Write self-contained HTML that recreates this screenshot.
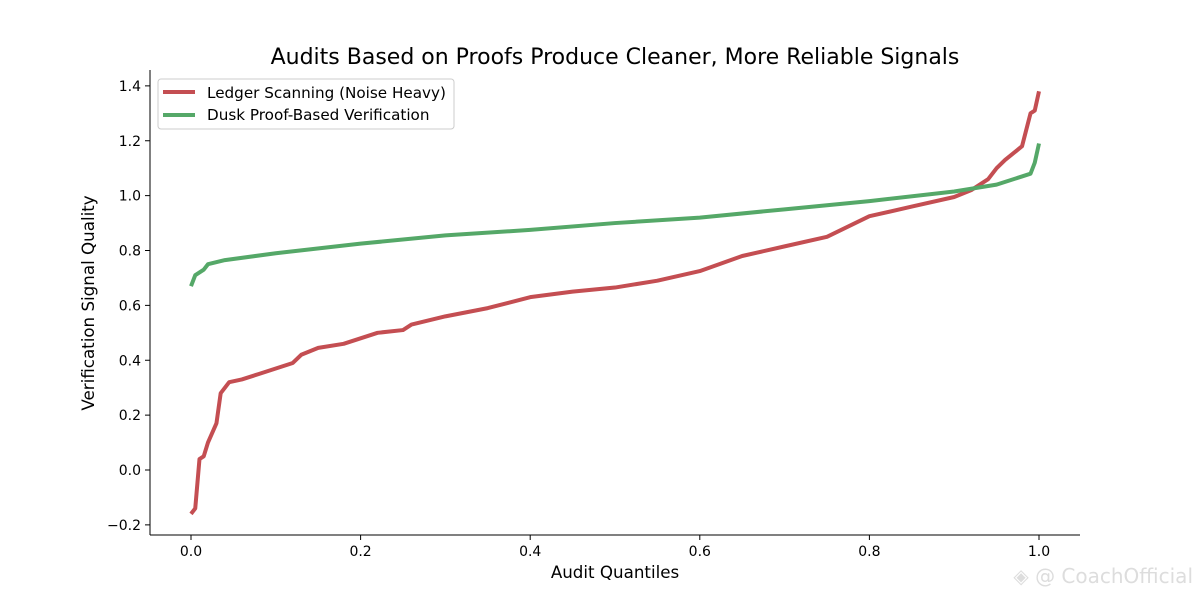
<!DOCTYPE html>
<html><head><meta charset="utf-8"><style>
body{margin:0;background:#fff;width:1200px;height:600px;overflow:hidden;font-family:"DejaVu Sans","Liberation Sans",sans-serif}
</style></head><body>
<svg id="chart" width="1200" height="600" xmlns="http://www.w3.org/2000/svg"></svg>
<script>
const redX=[0,0.005,0.01,0.015,0.02,0.03,0.035,0.04,0.045,0.06,0.08,0.1,0.12,0.13,0.15,0.18,0.2,0.22,0.25,0.26,0.3,0.35,0.4,0.45,0.5,0.55,0.6,0.65,0.7,0.75,0.8,0.85,0.9,0.92,0.94,0.95,0.96,0.98,0.985,0.99,0.995,1.0];
const redY=[-0.16,-0.14,0.04,0.05,0.1,0.17,0.28,0.30,0.32,0.33,0.35,0.37,0.39,0.42,0.445,0.46,0.48,0.50,0.51,0.53,0.56,0.59,0.63,0.65,0.665,0.69,0.725,0.78,0.815,0.85,0.925,0.96,0.995,1.02,1.06,1.10,1.13,1.18,1.24,1.30,1.31,1.38];
const greenX=[0,0.005,0.015,0.02,0.04,0.1,0.2,0.3,0.4,0.5,0.6,0.7,0.8,0.9,0.95,0.98,0.99,0.995,1.0];
const greenY=[0.67,0.71,0.73,0.75,0.765,0.79,0.825,0.855,0.875,0.9,0.92,0.95,0.98,1.015,1.04,1.07,1.08,1.12,1.19];
const xTicks=[0,0.2,0.4,0.6,0.8,1.0];
const yTicks=[-0.2,0,0.2,0.4,0.6,0.8,1.0,1.2,1.4];
const sx=v=>191+v*848, sy=v=>470-v*274.375;
const svg=document.getElementById('chart');
const NS='http://www.w3.org/2000/svg';
function mk(t,a,txt){const e=document.createElementNS(NS,t);for(const k in a)e.setAttribute(k,a[k]);if(txt!==undefined)e.textContent=txt;svg.appendChild(e);return e;}
let e;
e=mk('text',{x:615,y:64,'text-anchor':'middle','font-size':22},'Audits Based on Proofs Produce Cleaner, More Reliable Signals');


e=mk('line',{x1:150,y1:535,x2:1080,y2:535,stroke:'#000','stroke-width':1});


e=mk('line',{x1:150,y1:70,x2:150,y2:535,stroke:'#000','stroke-width':1});


xTicks.forEach(t=>{
 mk('line',{x1:sx(t),y1:535,x2:sx(t),y2:540,stroke:'#000'});
 e=mk('text',{x:sx(t),y:556,'text-anchor':'middle','font-size':14},t.toFixed(1));
 
 
});
yTicks.forEach(t=>{
 mk('line',{x1:145,y1:sy(t),x2:150,y2:sy(t),stroke:'#000'});
 e=mk('text',{x:141,y:sy(t)+5,'text-anchor':'end','font-size':14},(t<0?'\u2212':'')+Math.abs(t).toFixed(1));
 
 
});
e=mk('text',{x:615,y:578,'text-anchor':'middle','font-size':16.7},'Audit Quantiles');


e=mk('text',{x:94,y:303,'text-anchor':'middle','font-size':16.7,transform:'rotate(-90 94 303)'},'Verification Signal Quality');


function line(xs,ys,c){return mk('polyline',{points:xs.map((x,i)=>sx(x)+','+sy(ys[i])).join(' '),fill:'none',stroke:c,'stroke-width':4,'stroke-linejoin':'round'});}
e=line(redX,redY,'#c44e52');


e=line(greenX,greenY,'#55a868');


e=mk('rect',{x:158,y:79,width:296,height:50,rx:3,fill:'#fff',stroke:'#ccc'});


mk('line',{x1:163,y1:92,x2:195,y2:92,stroke:'#c44e52','stroke-width':4});
e=mk('text',{x:207,y:98,'font-size':15.2},'Ledger Scanning (Noise Heavy)');


mk('line',{x1:163,y1:115,x2:195,y2:115,stroke:'#55a868','stroke-width':4});
e=mk('text',{x:207,y:120,'font-size':15.2},'Dusk Proof-Based Verification');


e=mk('text',{x:1193,y:583,'text-anchor':'end','font-size':20,fill:'#ddd'},'\u25C8 @ CoachOfficial');


</script>
</body></html>
